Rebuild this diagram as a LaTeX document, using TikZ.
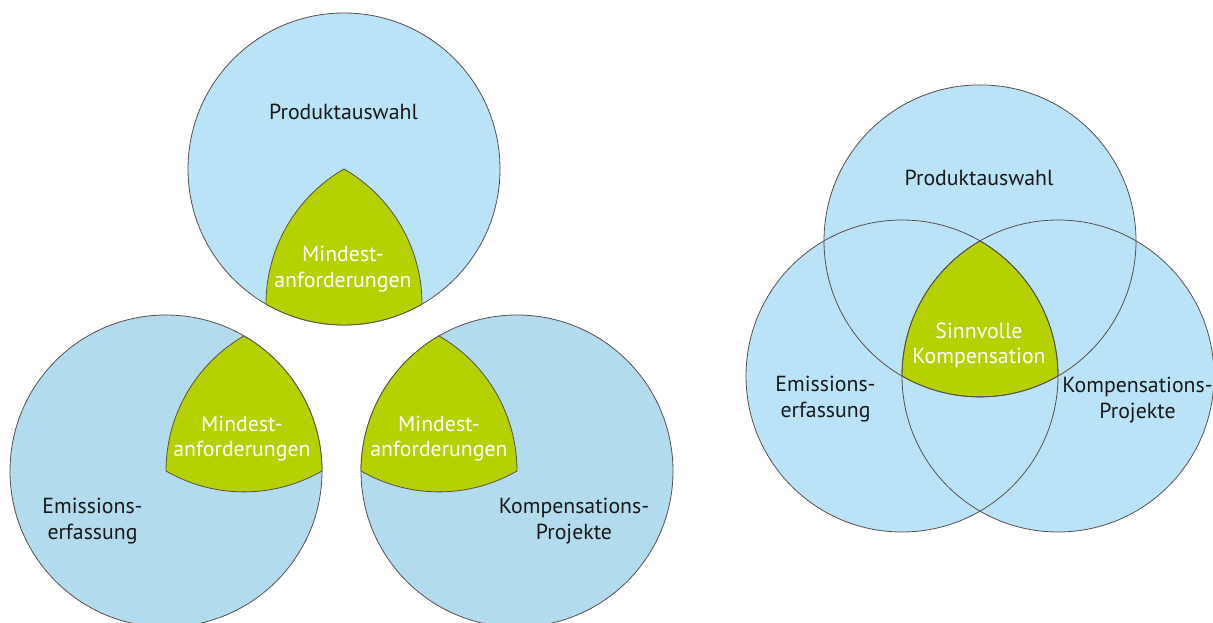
\documentclass[tikz,border=0pt]{standalone}
\usepackage{fontspec}
\setmainfont{PT Sans}
\usetikzlibrary{calc}
\definecolor{cblue}{RGB}{187,227,247}
\definecolor{cblueb}{RGB}{179,219,238}
\definecolor{cgreen}{RGB}{181,210,0}
\definecolor{cline}{RGB}{88,80,76}
\definecolor{ctext}{RGB}{25,25,25}
\begin{document}
\begin{tikzpicture}[x=1pt,y=1pt,
  circfill/.style={circle, minimum size=312pt, inner sep=0pt, line width=0.8pt, draw=cline},
  outline/.style={draw=cline, line width=0.8pt},
  lbl/.style={font=\fontsize{21.8}{25.8}\selectfont, text=ctext, align=center, inner sep=0pt},
  glbl/.style={lbl, text=white},
  reul/.style={fill=cgreen, draw=cline, line width=0.8pt},
  reuleaux/.style={insert path={arc[start angle=120,end angle=180,radius=156pt]
     arc[start angle=240,end angle=300,radius=156pt]
     arc[start angle=0,end angle=60,radius=156pt] -- cycle}}
]
\clip (0,0) rectangle (1213,622);
\fill[white] (0,0) rectangle (1213,622);

% ---------- left group ----------
\node[circfill, fill=cblue]  (A1) at (344,453) {};
\node[circfill, fill=cblueb] (B1) at (166,151) {};
\node[circfill, fill=cblueb] (C1) at (517,151) {};

\coordinate (t1) at (A1.center);
\coordinate (t2) at ($(B1.center)+(60:156pt)$);
\coordinate (t3) at ($(C1.center)+(120:156pt)$);

\path[reul] (t1) [reuleaux];
\path[reul] (t2) [reuleaux];
\path[reul] (t3) [reuleaux];

\node[lbl]  (p1) at (343.5,510.3) {Produktauswahl};
\node[glbl] (m1) at (343,352.7) {Mindest-\\anforderungen};
\node[glbl] (m2) at (242,183.5) {Mindest-\\anforderungen};
\node[glbl] (m3) at (439,183.5) {Mindest-\\anforderungen};
\node[lbl]  (e1) at (92.5,101.2) {Emissions-\\erfassung};
\node[lbl]  (k1) at (574,101.2) {Kompensations-\\Projekte};

% ---------- right Venn ----------
\node[circle, minimum size=312pt, inner sep=0pt, fill=cblue] (A2) at (980,381.1) {};
\node[circle, minimum size=312pt, inner sep=0pt, fill=cblue] (B2) at (902,246) {};
\node[circle, minimum size=312pt, inner sep=0pt, fill=cblue] (C2) at (1058,246) {};
\coordinate (t4) at (A2.center);
\path[reul] (t4) [reuleaux];
\draw[outline] (A2.center) circle[radius=156pt];
\draw[outline] (B2.center) circle[radius=156pt];
\draw[outline] (C2.center) circle[radius=156pt];

\node[lbl]  (p2) at (979,444) {Produktauswahl};
\node[glbl] (s2) at (979,276.5) {Sinnvolle\\Kompensation};
\node[lbl]  (e2) at (825.5,223) {Emissions-\\erfassung};
\node[lbl]  (k2) at (1137.5,221.7) {Kompensations-\\Projekte};
\end{tikzpicture}
\end{document}
